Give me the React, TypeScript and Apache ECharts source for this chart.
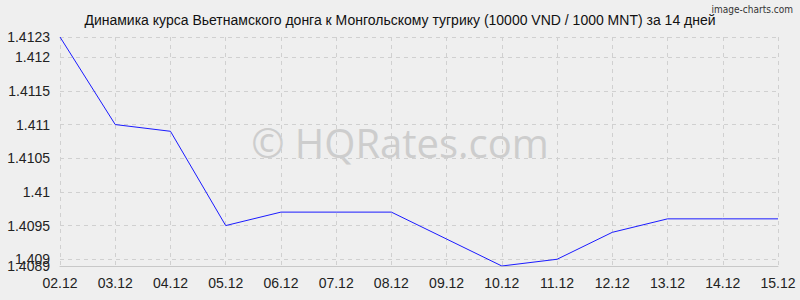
import React, { useEffect, useRef } from "react";
import * as echarts from "echarts";

const categories = ["02.12", "03.12", "04.12", "05.12", "06.12", "07.12", "08.12", "09.12", "10.12", "11.12", "12.12", "13.12", "14.12", "15.12"];
const rates = [1.4123, 1.411, 1.4109, 1.4095, 1.4097, 1.4097, 1.4097, 1.4093, 1.4089, 1.409, 1.4094, 1.4096, 1.4096, 1.4096];
const yTicks = [1.409, 1.4095, 1.41, 1.4105, 1.411, 1.4115, 1.412, 1.4123];
const yExtraTicks = [1.4089];
const yMin = 1.4089;
const yMax = 1.4123;
const title = "Динамика курса Вьетнамского донга к Монгольскому тугрику (10000 VND / 1000 MNT) за 14 дней";

const fmt = (v: number) => String(parseFloat(v.toFixed(4)));

export default function App() {
  const ref = useRef<HTMLDivElement>(null);
  useEffect(() => {
    if (!ref.current) return;
    const chart = echarts.init(ref.current, null, { renderer: "svg" });
    const labelStyle = { color: "#222", fontSize: 14, margin: 10, fontFamily: "Liberation Sans" };
    chart.setOption({
      animation: false,
      backgroundColor: "#efefef",
      textStyle: { fontFamily: "Liberation Sans" },
      title: {
        text: title,
        left: "center",
        top: 8,
        textStyle: { fontSize: 14, fontWeight: "normal", color: "#111", fontFamily: "Liberation Sans" },
      },
      graphic: [
        {
          type: "text",
          right: 7,
          top: 4,
          z: 10,
          style: { text: "image-charts.com", fontSize: 10, fill: "#333", fontFamily: "DejaVu Sans Condensed" },
        },
        {
          type: "text",
          left: "center",
          top: 122,
          z: 0,
          style: { text: "© HQRates.com", fontSize: 40, fill: "#cdcdcd", fontFamily: "Open Sans" },
        },
      ],
      grid: { left: 60, right: 22, top: 37, bottom: 34, containLabel: false },
      xAxis: {
        type: "category",
        data: categories,
        boundaryGap: false,
        axisLine: { show: true, lineStyle: { color: "#c8c8c8" } },
        axisTick: { show: false },
        axisLabel: labelStyle,
        splitLine: { show: true, lineStyle: { color: "#d0d0d0", type: [4, 4] } },
      },
      yAxis: [
        {
          type: "value",
          min: yMin,
          max: yMax,
          axisLine: { show: false },
          axisTick: { show: false, customValues: yTicks },
          axisLabel: { ...labelStyle, customValues: yTicks, hideOverlap: false, formatter: fmt },
          splitLine: { show: true, lineStyle: { color: "#d0d0d0", type: [4, 4] } },
        },
        {
          type: "value",
          position: "left",
          min: yMin,
          max: yMax,
          axisLine: { show: false },
          axisTick: { show: false, customValues: yExtraTicks },
          axisLabel: { ...labelStyle, customValues: yExtraTicks, formatter: fmt },
          splitLine: { show: false },
        },
      ],
      series: [
        {
          type: "line",
          data: rates,
          symbol: "none",
          z: 5,
          lineStyle: { color: "#1a1aff", width: 1 },
        },
      ],
    });
    return () => chart.dispose();
  }, []);
  return <div ref={ref} style={{ width: 800, height: 300, position: "absolute", left: 0, top: 0 }} />;
}
